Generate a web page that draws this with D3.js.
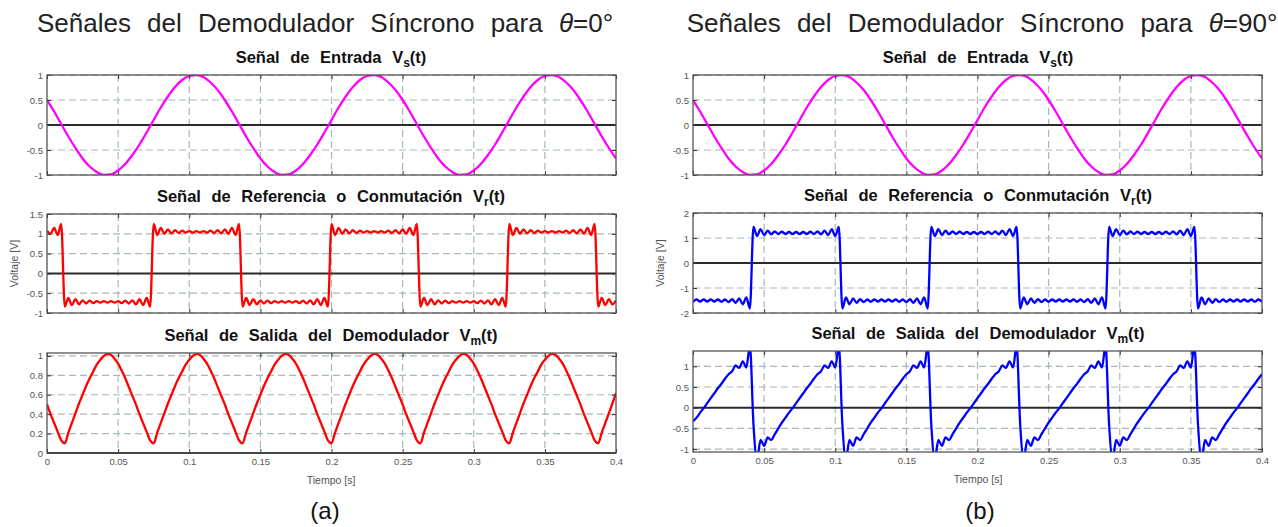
<!DOCTYPE html>
<html>
<head>
<meta charset="utf-8">
<script src="https://cdn.jsdelivr.net/npm/d3@7"></script>
<style>
  body { margin: 0; background: #fff; }
  text { font-family: "Liberation Sans", Arial, sans-serif; }
</style>
</head>
<body>
<script>
// paso de muestreo de cada serie [s]
const PASO_VS = 0.005;
const PASO = 0.0025;

const tiempoTicks = [0, 0.05, 0.1, 0.15, 0.2, 0.25, 0.3, 0.35, 0.4];

// señal de entrada (igual en los dos casos)
const vsEntrada = [
  0.50, 0.27, 0.02, -0.23, -0.46, -0.67, -0.83, -0.94, -1.00, -0.99, -0.91, -0.78, -0.60, -0.39, -0.15, 0.10, 0.35, 0.57, 0.76, 0.90, 0.98, 1.00, 0.96, 0.85, 0.70,
  0.50, 0.27, 0.02, -0.23, -0.46, -0.67, -0.83, -0.94, -1.00, -0.99, -0.91, -0.78, -0.60, -0.39, -0.15, 0.10, 0.35, 0.57, 0.76, 0.90, 0.98, 1.00, 0.96, 0.85, 0.70,
  0.50, 0.27, 0.02, -0.23, -0.46, -0.67, -0.83, -0.94, -1.00, -0.99, -0.91, -0.78, -0.60, -0.39, -0.15, 0.10, 0.35, 0.57, 0.76, 0.90, 0.98, 1.00, 0.96, 0.85, 0.70,
  0.50, 0.27, 0.02, -0.23, -0.46, -0.67
];

// referencia / conmutacion, theta = 0
const vrTheta0 = [
  1.08, 1.00, 1.15, 0.97, 1.25,
  -0.84, -0.62, -0.80, -0.65, -0.78, -0.68, -0.76, -0.69, -0.75, -0.70, -0.74, -0.70, -0.74, -0.70, -0.74, -0.70, -0.75, -0.69, -0.76, -0.68, -0.78, -0.65, -0.80, -0.62, -0.84,
  1.25, 0.97, 1.15, 1.00, 1.11, 1.01, 1.09, 1.02, 1.08, 1.03, 1.07, 1.03, 1.07, 1.03, 1.07, 1.03, 1.08, 1.02, 1.09, 1.01, 1.11, 1.00, 1.15, 0.97, 1.25,
  -0.84, -0.62, -0.80, -0.65, -0.78, -0.68, -0.76, -0.69, -0.75, -0.70, -0.74, -0.70, -0.74, -0.70, -0.74, -0.70, -0.75, -0.69, -0.76, -0.68, -0.78, -0.65, -0.80, -0.62, -0.84,
  1.25, 0.97, 1.15, 1.00, 1.11, 1.01, 1.09, 1.02, 1.08, 1.03, 1.07, 1.03, 1.07, 1.03, 1.07, 1.03, 1.08, 1.02, 1.09, 1.01, 1.11, 1.00, 1.15, 0.97, 1.25,
  -0.84, -0.62, -0.80, -0.65, -0.78, -0.68, -0.76, -0.69, -0.75, -0.70, -0.74, -0.70, -0.74, -0.70, -0.74, -0.70, -0.75, -0.69, -0.76, -0.68, -0.78, -0.65, -0.80, -0.62, -0.84,
  1.25, 0.97, 1.15, 1.00, 1.11, 1.01, 1.09, 1.02, 1.08, 1.03, 1.07, 1.03, 1.07, 1.03, 1.07, 1.03, 1.08, 1.02, 1.09, 1.01, 1.11, 1.00, 1.15, 0.97, 1.25,
  -0.84, -0.62, -0.80, -0.65, -0.78, -0.68
];

// salida del demodulador, theta = 0
const vmTheta0 = [
  0.50, 0.40, 0.31, 0.22, 0.13,
  0.10, 0.21, 0.31, 0.41, 0.51, 0.60, 0.69, 0.77, 0.84, 0.91, 0.96, 1.00, 1.02, 1.01, 0.97, 0.92, 0.85, 0.77, 0.68, 0.59, 0.50, 0.40, 0.31, 0.22, 0.13,
  0.10, 0.21, 0.31, 0.41, 0.51, 0.60, 0.69, 0.77, 0.84, 0.91, 0.96, 1.00, 1.02, 1.01, 0.97, 0.92, 0.85, 0.77, 0.68, 0.59, 0.50, 0.40, 0.31, 0.22, 0.13,
  0.10, 0.21, 0.31, 0.41, 0.51, 0.60, 0.69, 0.77, 0.84, 0.91, 0.96, 1.00, 1.02, 1.01, 0.97, 0.92, 0.85, 0.77, 0.68, 0.59, 0.50, 0.40, 0.31, 0.22, 0.13,
  0.10, 0.21, 0.31, 0.41, 0.51, 0.60, 0.69, 0.77, 0.84, 0.91, 0.96, 1.00, 1.02, 1.01, 0.97, 0.92, 0.85, 0.77, 0.68, 0.59, 0.50, 0.40, 0.31, 0.22, 0.13,
  0.10, 0.21, 0.31, 0.41, 0.51, 0.60, 0.69, 0.77, 0.84, 0.91, 0.96, 1.00, 1.02, 1.01, 0.97, 0.92, 0.85, 0.77, 0.68, 0.59, 0.50, 0.40, 0.31, 0.22, 0.13,
  0.10, 0.21, 0.31, 0.41, 0.51, 0.60, 0.69, 0.77, 0.84, 0.91, 0.96, 1.00, 1.02, 1.01, 0.97, 0.92, 0.85, 0.77, 0.68, 0.59, 0.50, 0.40, 0.31, 0.22, 0.13,
  0.10, 0.21, 0.31, 0.41, 0.51, 0.62
];

// referencia / conmutacion, theta = 90
const vrTheta90 = [
  -1.55, -1.46, -1.54, -1.46, -1.54, -1.46, -1.54, -1.46, -1.55, -1.46, -1.56, -1.45, -1.59, -1.42, -1.65, -1.38, -1.82,
  1.44, 1.08, 1.35, 1.12, 1.29, 1.15, 1.26, 1.16, 1.25, 1.16, 1.24, 1.16, 1.24, 1.16, 1.24, 1.16, 1.25, 1.16, 1.26, 1.15, 1.29, 1.12, 1.35, 1.08, 1.44,
  -1.82, -1.38, -1.65, -1.42, -1.59, -1.45, -1.56, -1.46, -1.55, -1.46, -1.54, -1.46, -1.54, -1.46, -1.54, -1.46, -1.55, -1.46, -1.56, -1.45, -1.59, -1.42, -1.65, -1.38, -1.82,
  1.44, 1.08, 1.35, 1.12, 1.29, 1.15, 1.26, 1.16, 1.25, 1.16, 1.24, 1.16, 1.24, 1.16, 1.24, 1.16, 1.25, 1.16, 1.26, 1.15, 1.29, 1.12, 1.35, 1.08, 1.44,
  -1.82, -1.38, -1.65, -1.42, -1.59, -1.45, -1.56, -1.46, -1.55, -1.46, -1.54, -1.46, -1.54, -1.46, -1.54, -1.46, -1.55, -1.46, -1.56, -1.45, -1.59, -1.42, -1.65, -1.38, -1.82,
  1.44, 1.08, 1.35, 1.12, 1.29, 1.15, 1.26, 1.16, 1.25, 1.16, 1.24, 1.16, 1.24, 1.16, 1.24, 1.16, 1.25, 1.16, 1.26, 1.15, 1.29, 1.12, 1.35, 1.08, 1.44,
  -1.82, -1.38, -1.65, -1.42, -1.59, -1.45, -1.56, -1.46, -1.55, -1.46, -1.54, -1.46, -1.54, -1.46, -1.54, -1.46, -1.55, -1.46, -1.56
];

// salida del demodulador, theta = 90
const vmTheta90 = [
  -0.33, -0.24, -0.12, -0.01, 0.11, 0.23, 0.35, 0.47, 0.58, 0.70, 0.81, 0.88, 1.02, 0.96, 1.12, 0.97, 1.50, -0.40, -1.25, -0.78, -0.92, -0.72, -0.78, -0.64, -0.50,
  -0.36, -0.24, -0.12, -0.01, 0.11, 0.23, 0.35, 0.47, 0.58, 0.70, 0.81, 0.88, 1.02, 0.96, 1.12, 0.97, 1.50, -0.40, -1.25, -0.78, -0.92, -0.72, -0.78, -0.64, -0.50,
  -0.36, -0.24, -0.12, -0.01, 0.11, 0.23, 0.35, 0.47, 0.58, 0.70, 0.81, 0.88, 1.02, 0.96, 1.12, 0.97, 1.50, -0.40, -1.25, -0.78, -0.92, -0.72, -0.78, -0.64, -0.50,
  -0.36, -0.24, -0.12, -0.01, 0.11, 0.23, 0.35, 0.47, 0.58, 0.70, 0.81, 0.88, 1.02, 0.96, 1.12, 0.97, 1.50, -0.40, -1.25, -0.78, -0.92, -0.72, -0.78, -0.64, -0.50,
  -0.36, -0.24, -0.12, -0.01, 0.11, 0.23, 0.35, 0.47, 0.58, 0.70, 0.81, 0.88, 1.02, 0.96, 1.12, 0.97, 1.50, -0.40, -1.25, -0.78, -0.92, -0.72, -0.78, -0.64, -0.50,
  -0.36, -0.24, -0.12, -0.01, 0.11, 0.23, 0.35, 0.47, 0.58, 0.70, 0.81, 0.88, 1.02, 0.96, 1.12, 0.97, 1.50, -0.40, -1.25, -0.78, -0.92, -0.72, -0.78, -0.64, -0.50,
  -0.36, -0.24, -0.12, -0.01, 0.11, 0.23, 0.35, 0.47, 0.58, 0.70, 0.81
];

// ticks del eje vertical
const ticksVs = [-1, -0.5, 0, 0.5, 1];
const ticksVr0 = [-1, -0.5, 0, 0.5, 1, 1.5];
const ticksVm0 = [0, 0.2, 0.4, 0.6, 0.8, 1];
const ticksVr90 = [-2, -1, 0, 1, 2];
const ticksVm90 = [-1, -0.5, 0, 0.5, 1];

const svg = d3.select('body')
    .append('svg')
    .attr('width', 1278)
    .attr('height', 527);

const columnas = [
  {
    x0: 47, x1: 616, cx: 331, theta: '0°', letra: '(a)', letraX: 325, tituloX: 325,
    paneles: [
      {serie: vsEntrada, paso: PASO_VS, color: '#ff00ff', dom: [-1, 1], ticks: ticksVs, y0: 75, y1: 175, sub: 's', nombre: 'Señal de Entrada V'},
      {serie: vrTheta0, paso: PASO, color: '#ff0000', dom: [-1, 1.5], ticks: ticksVr0, y0: 214, y1: 313, sub: 'r', nombre: 'Señal de Referencia o Conmutación V'},
      {serie: vmTheta0, paso: PASO, color: '#ff0000', dom: [0, 1.03], ticks: ticksVm0, y0: 353, y1: 453, sub: 'm', nombre: 'Señal de Salida del Demodulador V'}
    ]
  },
  {
    x0: 693, x1: 1262, cx: 978, theta: '90°', letra: '(b)', letraX: 980, tituloX: 982,
    paneles: [
      {serie: vsEntrada, paso: PASO_VS, color: '#ff00ff', dom: [-1, 1], ticks: ticksVs, y0: 75, y1: 175, sub: 's', nombre: 'Señal de Entrada V'},
      {serie: vrTheta90, paso: PASO, color: '#0000ff', dom: [-2, 2], ticks: ticksVr90, y0: 213, y1: 313, sub: 'r', nombre: 'Señal de Referencia o Conmutación V'},
      {serie: vmTheta90, paso: PASO, color: '#0000ff', dom: [-1.07, 1.37], ticks: ticksVm90, y0: 351, y1: 452, sub: 'm', nombre: 'Señal de Salida del Demodulador V'}
    ]
  }
];

columnas.forEach((col, ci) => {
  const x = d3.scaleLinear().domain([0, 0.4]).range([col.x0, col.x1]);

  // titulo principal
  const titulo = svg.append('text')
      .attr('x', col.tituloX)
      .attr('y', 32)
      .attr('text-anchor', 'middle')
      .attr('font-size', 26)
      .attr('word-spacing', 9)
      .attr('fill', '#222');
  titulo.append('tspan').text('Señales del Demodulador Síncrono para ');
  titulo.append('tspan').attr('font-style', 'italic').text('θ');
  titulo.append('tspan').text('=' + col.theta);

  col.paneles.forEach((p, pi) => {
    const y = d3.scaleLinear().domain(p.dom).range([p.y1, p.y0]);
    const g = svg.append('g');
    const ultimo = pi === col.paneles.length - 1;

    // subtitulo
    const sub = g.append('text')
        .attr('x', col.cx)
        .attr('y', p.y0 - 12)
        .attr('text-anchor', 'middle')
        .attr('font-size', 16.5)
        .attr('font-weight', 'bold')
        .attr('word-spacing', 6)
        .attr('fill', '#111');
    sub.append('tspan').text(p.nombre);
    sub.append('tspan').attr('font-size', 12).attr('dy', 4).text(p.sub);
    sub.append('tspan').attr('dy', -4).text('(t)');

    // rejilla
    g.selectAll('.gx')
      .data(tiempoTicks.slice(1, -1))
      .enter()
      .append('line')
      .attr('x1', d => x(d)).attr('x2', d => x(d))
      .attr('y1', p.y0).attr('y2', p.y1)
      .attr('stroke', '#a8b8b8')
      .attr('stroke-width', 1.2)
      .attr('stroke-dasharray', '7,4');

    g.selectAll('.gy')
      .data(p.ticks.filter(d => d !== 0))
      .enter()
      .append('line')
      .attr('x1', col.x0).attr('x2', col.x1)
      .attr('y1', d => y(d)).attr('y2', d => y(d))
      .attr('stroke', '#a8b8b8')
      .attr('stroke-width', 1.2)
      .attr('stroke-dasharray', '7,4');

    // linea de cero
    g.append('line')
      .attr('x1', col.x0).attr('x2', col.x1)
      .attr('y1', y(0)).attr('y2', y(0))
      .attr('stroke', '#2a2a2a')
      .attr('stroke-width', 2);

    // curva
    const clipId = `clip-${ci}-${pi}`;
    g.append('clipPath').attr('id', clipId)
      .append('rect')
      .attr('x', col.x0).attr('y', p.y0)
      .attr('width', col.x1 - col.x0).attr('height', p.y1 - p.y0);

    const linea = d3.line()
      .x((d, i) => x(i * p.paso))
      .y(d => y(d))
      .curve(d3.curveMonotoneX);

    g.append('path')
      .datum(p.serie)
      .attr('clip-path', `url(#${clipId})`)
      .attr('d', linea)
      .attr('fill', 'none')
      .attr('stroke', p.color)
      .attr('stroke-width', 2.3)
      .attr('stroke-linejoin', 'round');

    // ejes con ticks hacia dentro
    g.append('g')
      .attr('transform', `translate(${col.x0},0)`)
      .call(d3.axisLeft(y).tickValues(p.ticks).tickSize(-4).tickSizeOuter(0).tickPadding(4).tickFormat(d => String(d)));
    g.append('g')
      .attr('transform', `translate(${col.x1},0)`)
      .call(d3.axisRight(y).tickValues(p.ticks).tickSize(-4).tickSizeOuter(0).tickFormat(''));
    g.append('g')
      .attr('transform', `translate(0,${p.y1})`)
      .call(d3.axisBottom(x).tickValues(tiempoTicks).tickSize(-4).tickSizeOuter(0).tickPadding(5)
        .tickFormat(ultimo ? (d => String(d)) : ''));
    g.append('g')
      .attr('transform', `translate(0,${p.y0})`)
      .call(d3.axisTop(x).tickValues(tiempoTicks).tickSize(-4).tickSizeOuter(0).tickFormat(''));

    g.selectAll('.domain').remove();
    g.selectAll('.tick line').attr('stroke', '#333');
    g.selectAll('.tick text')
      .attr('font-size', 9.5)
      .attr('font-family', '"Liberation Sans", Arial, sans-serif')
      .attr('fill', '#555');

    // marco
    g.append('rect')
      .attr('x', col.x0).attr('y', p.y0)
      .attr('width', col.x1 - col.x0).attr('height', p.y1 - p.y0)
      .attr('fill', 'none')
      .attr('stroke', '#555')
      .attr('stroke-width', 1.3);

    if (pi === 1) {
      g.append('text')
        .attr('transform', `translate(${col.x0 - 29},${(p.y0 + p.y1) / 2}) rotate(-90)`)
        .attr('text-anchor', 'middle')
        .attr('font-size', 10.5)
        .attr('fill', '#555')
        .text('Voltaje [V]');
    }
    if (ultimo) {
      g.append('text')
        .attr('x', col.cx)
        .attr('y', p.y1 + 31)
        .attr('text-anchor', 'middle')
        .attr('font-size', 10.5)
        .attr('fill', '#555')
        .text('Tiempo [s]');
    }
  });

  svg.append('text')
    .attr('x', col.letraX)
    .attr('y', 519)
    .attr('text-anchor', 'middle')
    .attr('font-size', 24)
    .attr('fill', '#111')
    .text(col.letra);
});
</script>
</body>
</html>
